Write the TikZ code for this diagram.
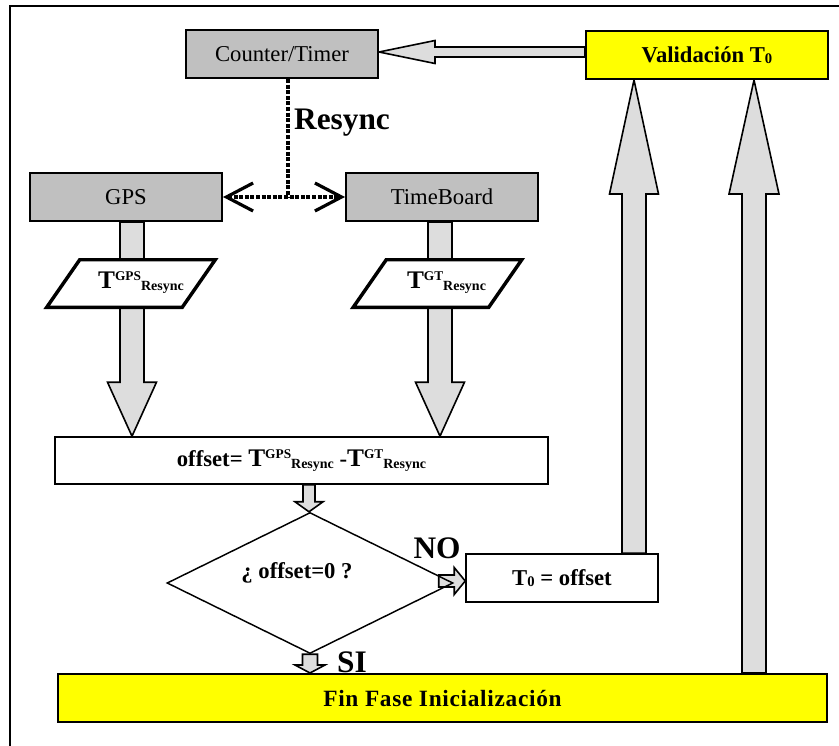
\documentclass[tikz,border=0pt]{standalone}
\usepackage{fontspec}
\setmainfont{Liberation Serif}
\usetikzlibrary{calc,shapes.geometric,arrows.meta,backgrounds}
\definecolor{boxgray}{HTML}{C0C0C0}
\definecolor{arrgray}{HTML}{DDDDDD}
\definecolor{yel}{HTML}{FFFF00}
\newcommand{\Tres}[1]{T\raisebox{6pt}{\fontsize{10}{10}\selectfont #1}\raisebox{-1.5pt}{\fontsize{10.5}{10}\selectfont Resync}}
\newcommand{\TresBig}[1]{{\fontsize{19}{20}\selectfont T}\raisebox{6.5pt}{\fontsize{10}{10}\selectfont #1}\raisebox{-1.5pt}{\fontsize{10.5}{10}\selectfont Resync}}
\newcommand{\zerosub}{\raisebox{-1pt}{\fontsize{11}{11}\selectfont 0}}
% vertical block arrow: #1 start, #2 tip, #3 shaft half, #4 head half, #5 signed head length
\newcommand{\vblk}[5]{\filldraw[blk] ($(#1)+(-#3,0)$) -- ($(#2)+(-#3,#5)$) -- ($(#2)+(-#4,#5)$) -- (#2) -- ($(#2)+(#4,#5)$) -- ($(#2)+(#3,#5)$) -- ($(#1)+(#3,0)$) -- cycle;}
\newcommand{\hblk}[5]{\filldraw[blk] ($(#1)+(0,-#3)$) -- ($(#2)+(#5,-#3)$) -- ($(#2)+(#5,-#4)$) -- (#2) -- ($(#2)+(#5,#4)$) -- ($(#2)+(#5,#3)$) -- ($(#1)+(0,#3)$) -- cycle;}
\begin{document}
\begin{tikzpicture}[x=0.75pt,y=-0.75pt,
  graybox/.style={draw, line width=1.5pt, fill=boxgray, minimum width=144pt, minimum height=36pt, inner sep=0pt, font=\fontsize{17}{20}\selectfont},
  yelbox/.style={draw, line width=1.5pt, fill=yel, minimum height=36pt, inner sep=0pt, font=\bfseries\fontsize{17}{20}\selectfont},
  whitebox/.style={draw, line width=1.2pt, fill=white, inner sep=0pt, font=\bfseries\fontsize{17}{20}\selectfont},
  paraslot/.style={minimum width=126pt, minimum height=35.25pt, inner sep=0pt},
  paratext/.style={inner sep=0pt, font=\bfseries\fontsize{16}{20}\selectfont},
  para/.style={draw, fill=white, line width=2.6pt, line join=miter},
  blk/.style={fill=arrgray, draw=black, line width=1.2pt, line join=miter},
  lbl/.style={inner sep=0pt, font=\bfseries\fontsize{23.5}{26}\selectfont},
  dashline/.style={line width=2.6pt, dash pattern=on 3pt off 1.2pt},
  barb/.tip={Straight Barb[length=20pt,width=21pt,line width=2.4pt]}
]
\useasboundingbox (0,0) rectangle (839,746);

% nodes
\node[graybox] (ct) at (282,54) {Counter/Timer};
\node[yelbox, minimum width=181.5pt] (val) at (707,55) {Validación T\zerosub};
\node[graybox] (gps) at (126,197) {GPS};
\node[graybox] (tb) at (442,197) {TimeBoard};
\node[paraslot] (pgps) at (131,283.5) {};
\node[paraslot] (ptb) at (437.5,283.5) {};
\node[paratext] (tgps) at ($(pgps.center)+(10,-1)$) {\TresBig{GPS}};
\node[paratext] (ttb) at ($(ptb.center)+(9,-1)$) {\TresBig{GT}};
\node[whitebox, minimum width=369.75pt, minimum height=35.25pt] (off) at (301.5,460.5) {offset= \TresBig{GPS} -\TresBig{GT}};
\node[diamond, draw, line width=1.1pt, minimum width=214.5pt, minimum height=105.75pt, inner sep=0pt] (dia) at (310,583) {};
\node[inner sep=0pt, font=\bfseries\fontsize{17}{20}\selectfont] (dtxt) at ($(dia.center)+(-13,-10)$) {¿ offset=0 ?};
\node[whitebox, minimum width=144pt, minimum height=36pt] (t0) at (562,578) {T\zerosub{} = offset};
\node[yelbox, minimum width=576.75pt, font=\bfseries\fontsize{17.5}{20}\selectfont\addfontfeature{LetterSpace=3}] (fin) at (442.5,698) {Fin Fase Inicialización};

\node[lbl] (rlab) at (342,123) {Resync};
\node[lbl] (nolab) at (437,548) {NO};
\node[lbl] (silab) at (352,662) {SI};

% helper coordinates
\coordinate (a1s) at ($(val.west)+(0,-3)$);
\coordinate (a1t) at (a1s -| ct.east);
\coordinate (a2s) at ($(gps.south)+(6,0)$);
\coordinate (a2t) at (a2s |- off.north);
\coordinate (a3s) at ($(tb.south)+(-2,0)$);
\coordinate (a3t) at (a3s |- off.north);
\coordinate (a4s) at ($(off.south)+(7.5,0)$);
\coordinate (a4t) at (a4s |- dia.north);
\coordinate (a5s) at (dia.south);
\coordinate (a5t) at (a5s |- fin.north);
\coordinate (a6s) at ($(dia.east)+(-15,-2)$);
\coordinate (a6t) at (a6s -| t0.west);
\coordinate (a7s) at ($(t0.north)+(72,0)$);
\coordinate (a7t) at (a7s |- val.south);
\coordinate (a8s) at ($(fin.north)+(311.5,0)$);
\coordinate (a8t) at (a8s |- val.south);

\begin{scope}[on background layer]
  \hblk{a1s}{a1t}{5}{11.5}{56}
  \vblk{a2s}{a2t}{12}{24.5}{-54}
  \vblk{a3s}{a3t}{12}{24.5}{-54}
  \vblk{a4s}{a4t}{6}{14}{-10}
  \vblk{a5s}{a5t}{7.5}{15}{-8}
  \hblk{a6s}{a6t}{6}{13.5}{-11}
  \vblk{a7s}{a7t}{12}{24.5}{114}
  \vblk{a8s}{a8t}{12}{25}{114}
  \draw[para] (pgps.south west) -- ($(pgps.north west)+(33,0)$) -- (pgps.north east) -- ($(pgps.south east)+(-33,0)$) -- cycle;
  \draw[para] (ptb.south west) -- ($(ptb.north west)+(33,0)$) -- (ptb.north east) -- ($(ptb.south east)+(-33,0)$) -- cycle;
\end{scope}

% Resync connector
\coordinate (rs) at ($(ct.south)+(6,0)$);
\coordinate (rj) at (rs |- gps.east);
\draw[dashline] (rs) -- (rj);
\draw[dashline, barb-barb] (gps.east) -- (tb.west);

% outer frame (clipped)
\coordinate (fr1) at (10,746);
\coordinate (fr2) at (10,6);
\coordinate (fr3) at (839,6);
\draw[line width=1.5pt] (fr1) -- (fr2) -- (fr3);
\end{tikzpicture}
\end{document}
